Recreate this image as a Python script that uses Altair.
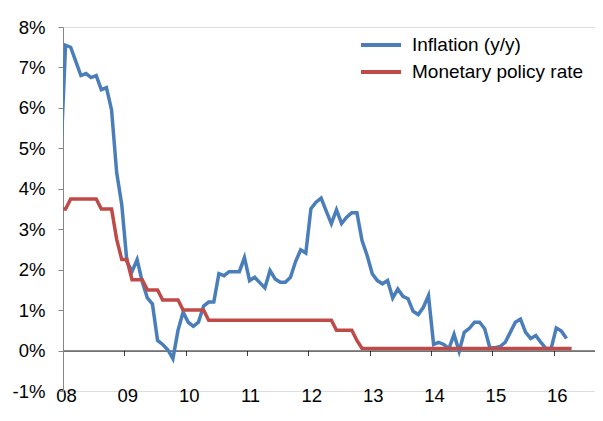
import altair as alt
import pandas as pd

# Monthly series, first value = Dec 2007
first_year = 2007
first_month = 12

inflation = [
    4.6,
    7.55, 7.5, 7.15, 6.8, 6.85, 6.75, 6.8, 6.45, 6.5, 5.95, 4.4, 3.6,      # 2008
    2.2, 1.95, 2.25, 1.7, 1.3, 1.15, 0.25, 0.15, 0.02, -0.2, 0.5, 0.95,    # 2009
    0.7, 0.6, 0.7, 1.1, 1.2, 1.2, 1.9, 1.85, 1.95, 1.95, 1.95, 2.3,        # 2010
    1.73, 1.81, 1.68, 1.55, 1.98, 1.77, 1.69, 1.69, 1.81, 2.2, 2.49, 2.41, # 2011
    3.51, 3.67, 3.77, 3.45, 3.14, 3.48, 3.14, 3.3, 3.41, 3.41, 2.72, 2.35, # 2012
    1.9, 1.73, 1.65, 1.73, 1.3, 1.52, 1.34, 1.28, 0.97, 0.89, 1.07, 1.36,  # 2013
    0.15, 0.2, 0.15, 0.05, 0.4, -0.02, 0.45, 0.55, 0.7, 0.7, 0.54, 0.07,   # 2014
    0.07, 0.1, 0.2, 0.45, 0.7, 0.78, 0.45, 0.3, 0.37, 0.2, 0.05, 0.05,     # 2015
    0.56, 0.48, 0.3,                                                       # 2016
]

policy_rate = [
    3.5,
    3.5, 3.75, 3.75, 3.75, 3.75, 3.75, 3.75, 3.5, 3.5, 3.5, 2.75, 2.25,      # 2008
    2.25, 1.75, 1.75, 1.75, 1.5, 1.5, 1.5, 1.25, 1.25, 1.25, 1.25, 1.0,     # 2009
    1.0, 1.0, 1.0, 1.0, 0.75, 0.75, 0.75, 0.75, 0.75, 0.75, 0.75, 0.75,    # 2010
    0.75, 0.75, 0.75, 0.75, 0.75, 0.75, 0.75, 0.75, 0.75, 0.75, 0.75, 0.75, # 2011
    0.75, 0.75, 0.75, 0.75, 0.75, 0.5, 0.5, 0.5, 0.5, 0.25, 0.05, 0.05,    # 2012
    0.05, 0.05, 0.05, 0.05, 0.05, 0.05, 0.05, 0.05, 0.05, 0.05, 0.05, 0.05, # 2013
    0.05, 0.05, 0.05, 0.05, 0.05, 0.05, 0.05, 0.05, 0.05, 0.05, 0.05, 0.05, # 2014
    0.05, 0.05, 0.05, 0.05, 0.05, 0.05, 0.05, 0.05, 0.05, 0.05, 0.05, 0.05, # 2015
    0.05, 0.05, 0.05, 0.05,                                                 # 2016
]

series_names = ["Inflation (y/y)", "Monetary policy rate"]
series_colors = ["#4A7EBB", "#BE4B48"]
year_ticks = list(range(2008, 2017))
y_ticks = list(range(-1, 9))


def month_pos(i):
    # mid-month position in fractional years
    m = (first_month - 1) + i
    return first_year + (m + 0.5) / 12.0


rows = []
for name, vals in zip(series_names, [inflation, policy_rate]):
    for i, v in enumerate(vals):
        rows.append({"t": month_pos(i), "value": v, "series": name})
df = pd.DataFrame(rows)

FONT = "Liberation Sans"

chart = alt.Chart(df).mark_line(strokeWidth=3.5, clip=True).encode(
    x=alt.X(
        "t:Q",
        scale=alt.Scale(domain=[2008, 2016.673], nice=False, zero=False),
        axis=alt.Axis(
            values=year_ticks,
            labelExpr="format(datum.value - 2000, '02d')",
            offset=-40.44,
            tickSize=5,
            labelPadding=31,
            labelOffset=3,
            labelFlush=False,
            domainColor="#000000",
            tickColor="#404040",
            grid=False,
            title=None,
            labelFont=FONT,
            labelFontSize=18.5,
            labelColor="#000000",
        ),
    ),
    y=alt.Y(
        "value:Q",
        scale=alt.Scale(domain=[-1, 8], nice=False, zero=False),
        axis=alt.Axis(
            values=y_ticks,
            labelExpr="datum.value + '%'",
            tickSize=5,
            labelPadding=13,
            domainColor="#868686",
            tickColor="#868686",
            grid=False,
            title=None,
            labelFont=FONT,
            labelFontSize=18.5,
            labelColor="#000000",
        ),
    ),
    color=alt.Color(
        "series:N",
        scale=alt.Scale(domain=series_names, range=series_colors),
        legend=alt.Legend(
            title=None,
            orient="none",
            legendX=296,
            legendY=8,
            symbolType="stroke",
            symbolSize=1600,
            symbolStrokeWidth=4,
            clipHeight=20,
            labelFont=FONT,
            labelFontSize=19,
            labelColor="#000000",
            labelOffset=9,
            labelLimit=400,
            rowPadding=7,
            padding=0,
        ),
    ),
).properties(
    width=532,
    height=364,
    autosize=alt.AutoSizeParams(type="none"),
    padding={"left": 55, "top": 19, "right": 0, "bottom": 17},
).configure_view(stroke=None).configure(background="white")

chart.save("out.html", embed_options={"renderer": "svg", "actions": False})
